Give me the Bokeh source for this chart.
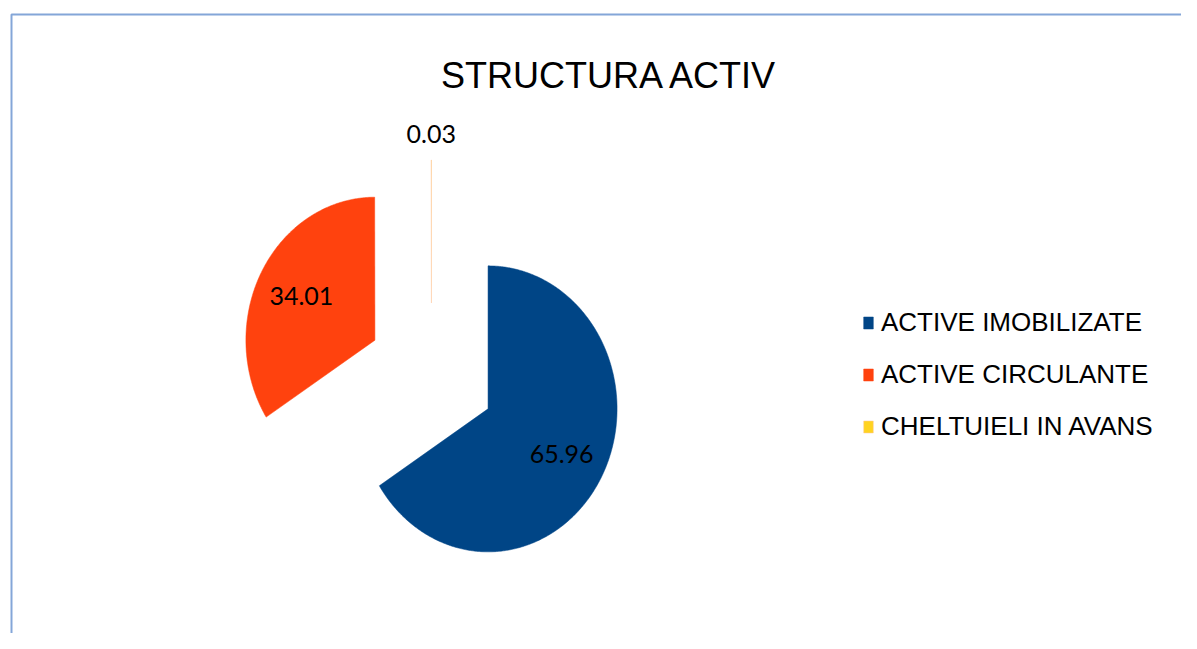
import numpy as np
from bokeh.plotting import figure
from bokeh.models import Range1d, Label, Legend, LegendItem, BoxAnnotation, ColumnDataSource
from bokeh.embed import file_html
from bokeh.resources import INLINE

# ---- data ----
title_text = "STRUCTURA ACTIV"
categories = ["ACTIVE IMOBILIZATE", "ACTIVE CIRCULANTE", "CHELTUIELI IN AVANS"]
values = [65.96, 34.01, 0.03]
colors = ["#004586", "#ff420e", "#ffd320"]
value_labels = ["65.96", "34.01", "0.03"]

# ---- layout (pixel-like coordinates, y downward) ----
W, H = 1181, 633
p = figure(width=W, height=H, output_backend="svg", toolbar_location=None,
           x_range=Range1d(0, W), y_range=Range1d(H, 0),
           min_border=0, outline_line_color=None)
p.axis.visible = False
p.grid.visible = False
p.background_fill_color = "white"
p.border_fill_color = "white"

# chart area border (top + left visible)
p.add_layout(BoxAnnotation(left=11, right=1300, top=14, bottom=800,
                           fill_alpha=0, line_color="#84a6d8", line_alpha=1.0, line_width=2))

cx, cy = 431.0, 374.0      # pie centre
rx, ry = 129.0, 143.0      # radii (slightly squeezed ellipse)
explode = 0.5              # fraction of radius

total = float(sum(values))
fracs = np.array(values) / total
ends = np.cumsum(fracs) * 2 * np.pi
starts = ends - fracs * 2 * np.pi

renderers = []
for i, (cat, col) in enumerate(zip(categories, colors)):
    a0, a1 = starts[i], ends[i]
    mid = 0.5 * (a0 + a1)
    ox = cx + explode * rx * np.sin(mid)
    oy = cy - explode * ry * np.cos(mid)
    t = np.linspace(a0, a1, max(int(np.degrees(a1 - a0)) * 2, 4))
    xs = np.concatenate([[ox], ox + rx * np.sin(t), [ox]])
    ys = np.concatenate([[oy], oy - ry * np.cos(t), [oy]])
    src = ColumnDataSource(dict(xs=[list(xs)], ys=[list(ys)]))
    small = fracs[i] < 0.01
    r = p.patches("xs", "ys", source=src, fill_color=col, line_color="#ffc9a0" if small else col,
                  line_width=1 if small else 0.5, line_alpha=0.5 if small else 1)
    renderers.append(r)
    # value label
    d = 0.65 if fracs[i] > 0.02 else 1.18
    lx = ox + d * rx * np.sin(mid)
    ly = oy - d * ry * np.cos(mid)
    p.add_layout(Label(x=lx, y=ly, text=value_labels[i], text_align="center",
                       text_baseline="middle", text_font="Lato",
                       text_font_size="25px", text_color="#000000"))

# title
p.add_layout(Label(x=609.5, y=74.5, text=title_text, text_align="center",
                   text_baseline="alphabetic", text_font="Liberation Sans",
                   text_font_size="36px", text_color="#000000"))

legend = Legend(items=[LegendItem(label=c, renderers=[r]) for c, r in zip(categories, renderers)],
                location=(862, 191), orientation="vertical",
                label_text_font="Liberation Sans", label_text_font_size="26px",
                label_text_color="#000000", glyph_width=12, glyph_height=15,
                label_height=30, spacing=21, label_standoff=7, padding=0, margin=0,
                border_line_color=None, background_fill_alpha=0)
p.add_layout(legend)

open("out.html", "w").write(file_html(p, INLINE))
